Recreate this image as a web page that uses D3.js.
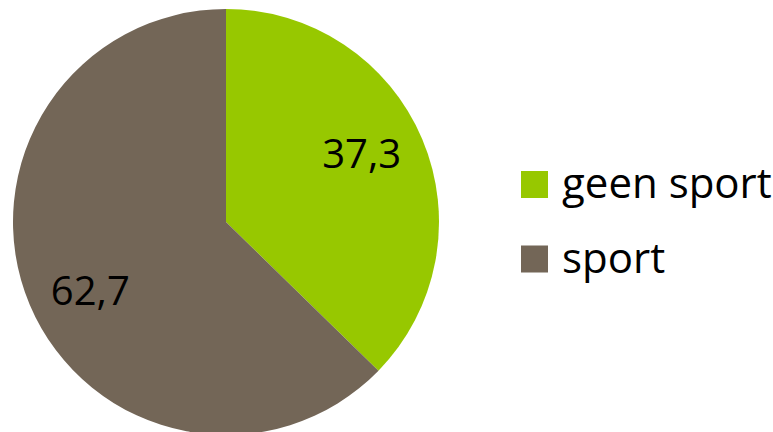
<!DOCTYPE html>
<html><head><meta charset="utf-8">
<script src="https://cdn.jsdelivr.net/npm/d3@7"></script>
<style>html,body{margin:0;padding:0;background:#fff;overflow:hidden}</style>
</head><body>
<svg id="chart" width="773" height="432"></svg>
<script>
const categories = ["geen sport", "sport"];
const values = [37.3, 62.7];
const labels = ["37,3", "62,7"];
const colors = ["#97C800", "#736657"];

const svg = d3.select("#chart");
const cx = 226, cy = 222, r = 213;
const pie = d3.pie().sort(null).value(d => d)(values);
const arc = d3.arc().innerRadius(0).outerRadius(r);
const g = svg.append("g").attr("transform", `translate(${cx},${cy})`);
g.selectAll("path").data(pie).join("path")
  .attr("d", arc).attr("fill", (d, i) => colors[i]);

// label placement: slightly offset from mid-angle, like the original
const labelR = r * 0.714, angOff = -4 * Math.PI / 180;
const labelPos = d => {
  const a = (d.startAngle + d.endAngle) / 2 + angOff;
  return [labelR * Math.sin(a), -labelR * Math.cos(a)];
};
g.selectAll("text").data(pie).join("text")
  .attr("x", d => labelPos(d)[0])
  .attr("y", d => labelPos(d)[1])
  .attr("text-anchor", "middle").attr("dy", "0.36em")
  .attr("font-family", "Open Sans").attr("font-size", 40).attr("fill", "#000")
  .text((d, i) => labels[i]);

const legend = svg.append("g").attr("transform", "translate(521,171)");
const items = legend.selectAll("g").data(categories).join("g")
  .attr("transform", (d, i) => `translate(0,${i * 74.5})`);
items.append("rect").attr("width", 27).attr("height", 27).attr("fill", (d, i) => colors[i]);
items.append("text").attr("x", 41).attr("y", 27)
  .attr("font-family", "Open Sans").attr("font-size", 42).attr("fill", "#000")
  .text(d => d);
</script>
</body></html>
